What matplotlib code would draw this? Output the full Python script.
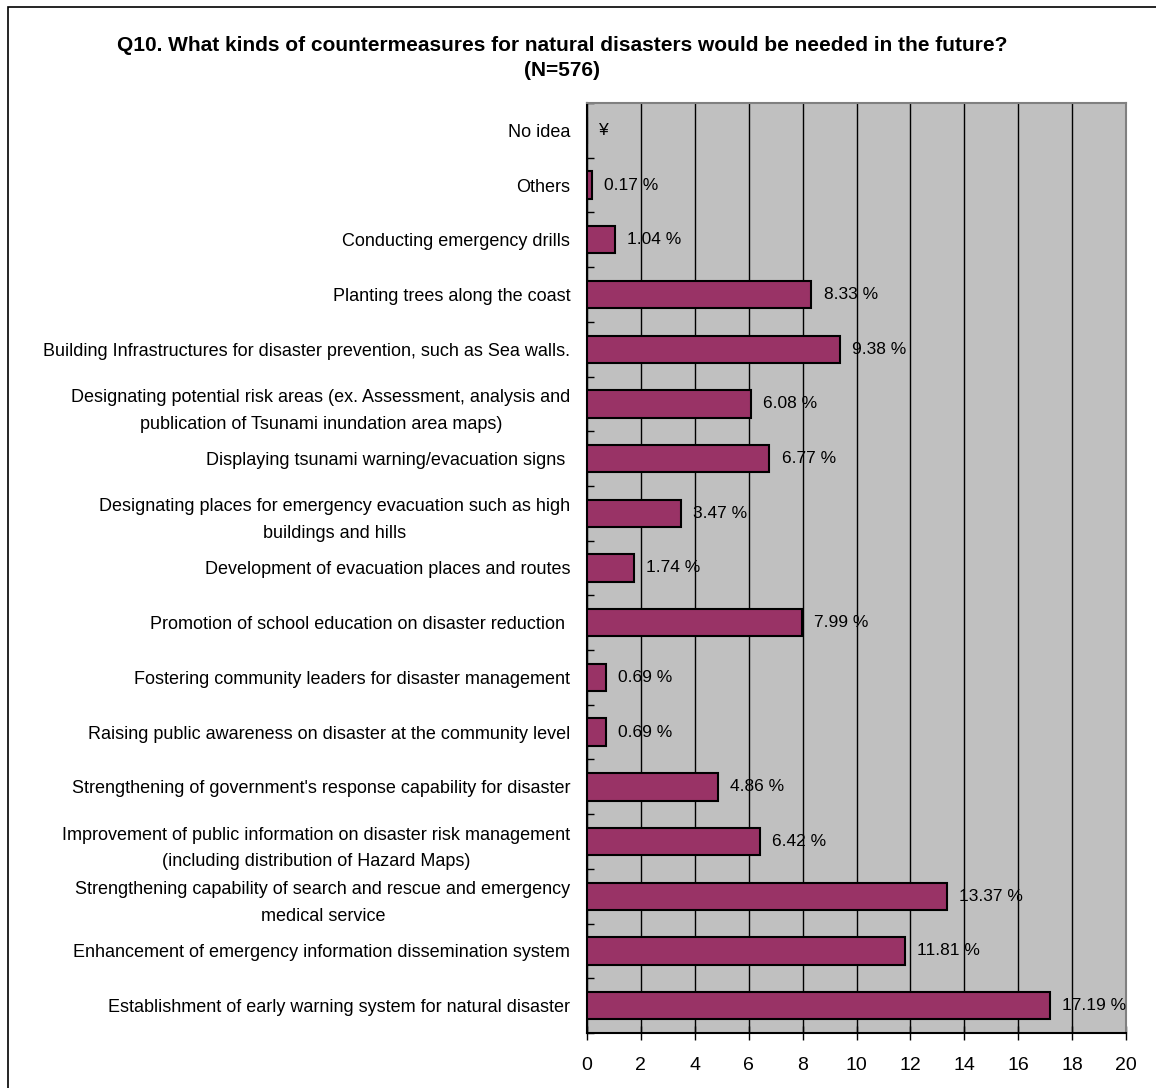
import matplotlib
matplotlib.use("Agg")
import matplotlib.pyplot as plt
from matplotlib.patches import Rectangle
import numpy as np

# categories, top to bottom as in the chart
categories = [
    "No idea",
    "Others",
    "Conducting emergency drills",
    "Planting trees along the coast",
    "Building Infrastructures for disaster prevention, such as Sea walls.",
    "Designating potential risk areas (ex. Assessment, analysis and\npublication of Tsunami inundation area maps)",
    "Displaying tsunami warning/evacuation signs ",
    "Designating places for emergency evacuation such as high\nbuildings and hills",
    "Development of evacuation places and routes",
    "Promotion of school education on disaster reduction ",
    "Fostering community leaders for disaster management",
    "Raising public awareness on disaster at the community level",
    "Strengthening of government's response capability for disaster",
    "Improvement of public information on disaster risk management\n(including distribution of Hazard Maps)",
    "Strengthening capability of search and rescue and emergency\nmedical service",
    "Enhancement of emergency information dissemination system",
    "Establishment of early warning system for natural disaster",
]
values = [0.0, 0.17, 1.04, 8.33, 9.38, 6.08, 6.77, 3.47, 1.74, 7.99,
          0.69, 0.69, 4.86, 6.42, 13.37, 11.81, 17.19]
value_labels = ["¥", "0.17 %", "1.04 %", "8.33 %", "9.38 %", "6.08 %", "6.77 %",
                "3.47 %", "1.74 %", "7.99 %", "0.69 %", "0.69 %", "4.86 %",
                "6.42 %", "13.37 %", "11.81 %", "17.19 %"]
x_ticks = [0, 2, 4, 6, 8, 10, 12, 14, 16, 18, 20]

title = "Q10. What kinds of countermeasures for natural disasters would be needed in the future?\n(N=576)"

font = ["Liberation Sans", "DejaVu Sans"]
W, H = 1156, 1088

fig = plt.figure(figsize=(W / 100, H / 100), dpi=100)
ax = fig.add_axes([587 / W, 1 - 1033 / H, (1126 - 587) / W, (1033 - 103) / H])
ax.set_facecolor("#C0C0C0")

y = np.arange(len(categories))
ax.barh(y, values, height=0.5, color="#993366", edgecolor="black", linewidth=1.5, zorder=3)

for yi, v, lbl in zip(y, values, value_labels):
    ax.text(v + 0.45, yi, lbl, va="center", ha="left", fontsize=12.5,
            family=font, zorder=4)

ax.set_xlim(0, 20)
ax.set_ylim(len(categories) - 0.5, -0.5)
ax.set_xticks(x_ticks)
ax.set_xticklabels([str(t) for t in x_ticks], fontsize=14, family=font)
ax.tick_params(axis="x", direction="inout", length=10, width=1, pad=12)

ax.set_yticks(y)
ax.set_yticklabels(categories, fontsize=13, family=font, linespacing=1.75,
                   multialignment="center")
ax.tick_params(axis="y", which="major", length=0, pad=12)
ax.set_yticks(np.arange(-0.5, len(categories), 1), minor=True)
ax.tick_params(axis="y", which="minor", direction="in", length=5, width=1)

ax.xaxis.grid(True, color="black", linewidth=1)
ax.set_axisbelow(True)
for s in ["left", "bottom"]:
    ax.spines[s].set_color("black")
    ax.spines[s].set_linewidth(1.5)
for s in ["top", "right"]:
    ax.spines[s].set_color("#808080")
    ax.spines[s].set_linewidth(1.5)

fig.text(562 / W, 1 - 36 / H, title, ha="center", va="top", fontsize=15,
         fontweight="bold", family=font, linespacing=1.4)

# outer chart border
fig.patches.append(Rectangle((8 / W, -0.1), 1.5, 1 - 7 / H + 0.1,
                             transform=fig.transFigure, fill=False,
                             edgecolor="black", linewidth=1.2))

fig.savefig("out.png", dpi=100)
